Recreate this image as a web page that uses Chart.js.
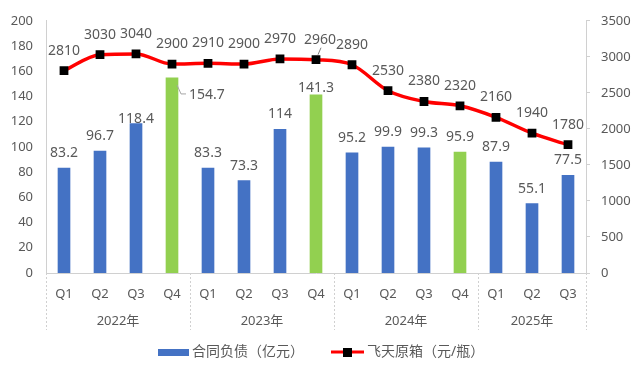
<!DOCTYPE html>
<html>
<head>
<meta charset="utf-8">
<script src="https://cdn.jsdelivr.net/npm/chart.js@4.4.1/dist/chart.umd.min.js"></script>
<style>
  body { margin: 0; background: #fff; }
  #wrap { width: 640px; height: 376px; }
</style>
</head>
<body>
<div id="wrap"><canvas id="myChart" width="640" height="376"></canvas></div>
<script>
// data
var quarters = ['Q1', 'Q2', 'Q3', 'Q4', 'Q1', 'Q2', 'Q3', 'Q4', 'Q1', 'Q2', 'Q3', 'Q4', 'Q1', 'Q2', 'Q3'];
var years = ['2022年', '2023年', '2024年', '2025年'];
var yearSpans = [4, 4, 4, 3];
var contractLiabilities = [83.2, 96.7, 118.4, 154.7, 83.3, 73.3, 114, 141.3, 95.2, 99.9, 99.3, 95.9, 87.9, 55.1, 77.5];
var feitianPrice = [2810, 3030, 3040, 2900, 2910, 2900, 2970, 2960, 2890, 2530, 2380, 2320, 2160, 1940, 1780];
var barName = '合同负债（亿元）';
var lineName = '飞天原箱（元/瓶）';
var leftAxis = { min: 0, max: 200, step: 20 };
var rightAxis = { min: 0, max: 3500, step: 500 };

var BLUE = '#4472C4';
var GREEN = '#92D050';
var TXT = '#595959';
var AXIS = '#d0d0d0';
var NUM_FONT = '"Noto Sans", "Liberation Sans", sans-serif';
var CJK_FONT = '"Noto Sans", "Noto Sans CJK SC", sans-serif';

// a few labels were moved by hand in the original
var barLabelMove = { 2: [0, -5], 7: [0, -7] };
var sideLabel = 3;
var pointLabelMove = { 7: [4, -20] };

var labelsPlugin = {
    id: 'labelsPlugin',
    afterDatasetsDraw: function(chart) {
        var ctx = chart.ctx;
        ctx.save();
        ctx.font = '14px ' + NUM_FONT;
        ctx.fillStyle = TXT;
        ctx.textAlign = 'center';
        ctx.textBaseline = 'middle';

        var bars = chart.getDatasetMeta(0).data;
        bars.forEach(function(el, i) {
            var txt = String(contractLiabilities[i]);
            if (i === sideLabel) {
                ctx.strokeStyle = '#a6a6a6';
                ctx.lineWidth = 1;
                ctx.beginPath();
                ctx.moveTo(el.x + 5, el.y + 7);
                ctx.lineTo(el.x + 9, el.y + 16);
                ctx.lineTo(el.x + 14, el.y + 16);
                ctx.stroke();
                ctx.textAlign = 'left';
                ctx.fillText(txt, el.x + 17, el.y + 17);
                ctx.textAlign = 'center';
                return;
            }
            var mv = barLabelMove[i] || [0, -15];
            ctx.fillText(txt, el.x + mv[0], el.y + mv[1]);
        });

        var pts = chart.getDatasetMeta(1).data;
        pts.forEach(function(el, i) {
            var mv = pointLabelMove[i] || [0, -20];
            if (pointLabelMove[i]) {
                ctx.strokeStyle = '#7f7f7f';
                ctx.lineWidth = 1;
                ctx.beginPath();
                ctx.moveTo(el.x + 2, el.y - 5);
                ctx.lineTo(el.x + 5, el.y - 12);
                ctx.stroke();
            }
            ctx.fillText(String(feitianPrice[i]), el.x + mv[0], el.y + mv[1]);
        });
        ctx.restore();
    }
};

var yearAxisPlugin = {
    id: 'yearAxisPlugin',
    afterDraw: function(chart) {
        var ctx = chart.ctx;
        var area = chart.chartArea;
        var x = chart.scales.x;
        var catW = (area.right - area.left) / quarters.length;
        ctx.save();
        ctx.strokeStyle = AXIS;
        ctx.lineWidth = 1;

        var start = 0;
        var edges = [area.left];
        yearSpans.forEach(function(n, k) {
            var left = x.getPixelForValue(start) - catW / 2;
            var right = x.getPixelForValue(start + n - 1) + catW / 2;
            edges.push(right);
            ctx.fillStyle = TXT;
            ctx.font = '13px ' + CJK_FONT;
            ctx.textAlign = 'center';
            ctx.textBaseline = 'middle';
            ctx.fillText(years[k], (left + right) / 2, area.bottom + 48);
            start += n;
        });
        ctx.setLineDash([2, 2]);
        edges.forEach(function(ex) {
            var px = Math.round(ex) + 0.5;
            ctx.beginPath();
            ctx.moveTo(px, area.bottom);
            ctx.lineTo(px, area.bottom + 57);
            ctx.stroke();
        });
        ctx.setLineDash([]);

        // legend
        ctx.fillStyle = BLUE;
        ctx.fillRect(158, 349, 31, 7);
        ctx.fillStyle = TXT;
        ctx.font = '14px ' + CJK_FONT;
        ctx.textAlign = 'left';
        ctx.textBaseline = 'middle';
        ctx.fillText(barName, 192, 352);

        ctx.strokeStyle = '#FF0000';
        ctx.lineWidth = 3;
        ctx.beginPath();
        ctx.moveTo(331, 352);
        ctx.lineTo(364, 352);
        ctx.stroke();
        ctx.fillStyle = '#000';
        ctx.fillRect(343, 348, 9, 9);
        ctx.fillStyle = TXT;
        ctx.fillText(lineName, 367, 352);
        ctx.restore();
    }
};

var plainTick = function(v) { return String(v); };

var ctx = document.getElementById('myChart');
var myChart = new Chart(ctx, {
    data: {
        labels: quarters,
        datasets: [{
            type: 'bar',
            label: barName,
            data: contractLiabilities,
            backgroundColor: quarters.map(function(q) { return q === 'Q4' ? GREEN : BLUE; }),
            barThickness: 12,
            yAxisID: 'y',
            order: 1
        }, {
            type: 'line',
            label: lineName,
            data: feitianPrice,
            borderColor: '#FF0000',
            borderWidth: 3.5,
            cubicInterpolationMode: 'monotone',
            pointStyle: 'rect',
            pointRadius: 6.2,
            pointBackgroundColor: '#000',
            pointBorderColor: '#000',
            pointBorderWidth: 0,
            yAxisID: 'y1',
            order: 0
        }]
    },
    options: {
        responsive: false,
        animation: false,
        layout: { padding: { top: 18, left: 0, right: 0, bottom: 0 } },
        plugins: {
            legend: { display: false },
            tooltip: { enabled: false }
        },
        scales: {
            x: {
                grid: { display: false, drawTicks: false },
                border: { display: true, color: AXIS, dash: [2, 2] },
                ticks: { color: TXT, font: { family: NUM_FONT, size: 13 }, padding: 13, maxRotation: 0, autoSkip: false },
                afterFit: function(s) { s.height = 103; }
            },
            y: {
                position: 'left',
                min: leftAxis.min,
                max: leftAxis.max,
                grid: { display: false, drawTicks: false },
                border: { display: true, color: AXIS, dash: [2, 2] },
                ticks: { stepSize: leftAxis.step, color: TXT, font: { family: NUM_FONT, size: 13 }, padding: 13, callback: plainTick },
                afterFit: function(s) { s.width = 46; }
            },
            y1: {
                position: 'right',
                min: rightAxis.min,
                max: rightAxis.max,
                grid: { drawOnChartArea: false, drawTicks: true, tickLength: 4, color: AXIS },
                border: { display: true, color: AXIS, dash: [2, 2] },
                ticks: { stepSize: rightAxis.step, color: TXT, font: { family: NUM_FONT, size: 13 }, padding: 11, callback: plainTick },
                afterFit: function(s) { s.width = 54; }
            }
        }
    },
    plugins: [labelsPlugin, yearAxisPlugin]
});
</script>
</body>
</html>
